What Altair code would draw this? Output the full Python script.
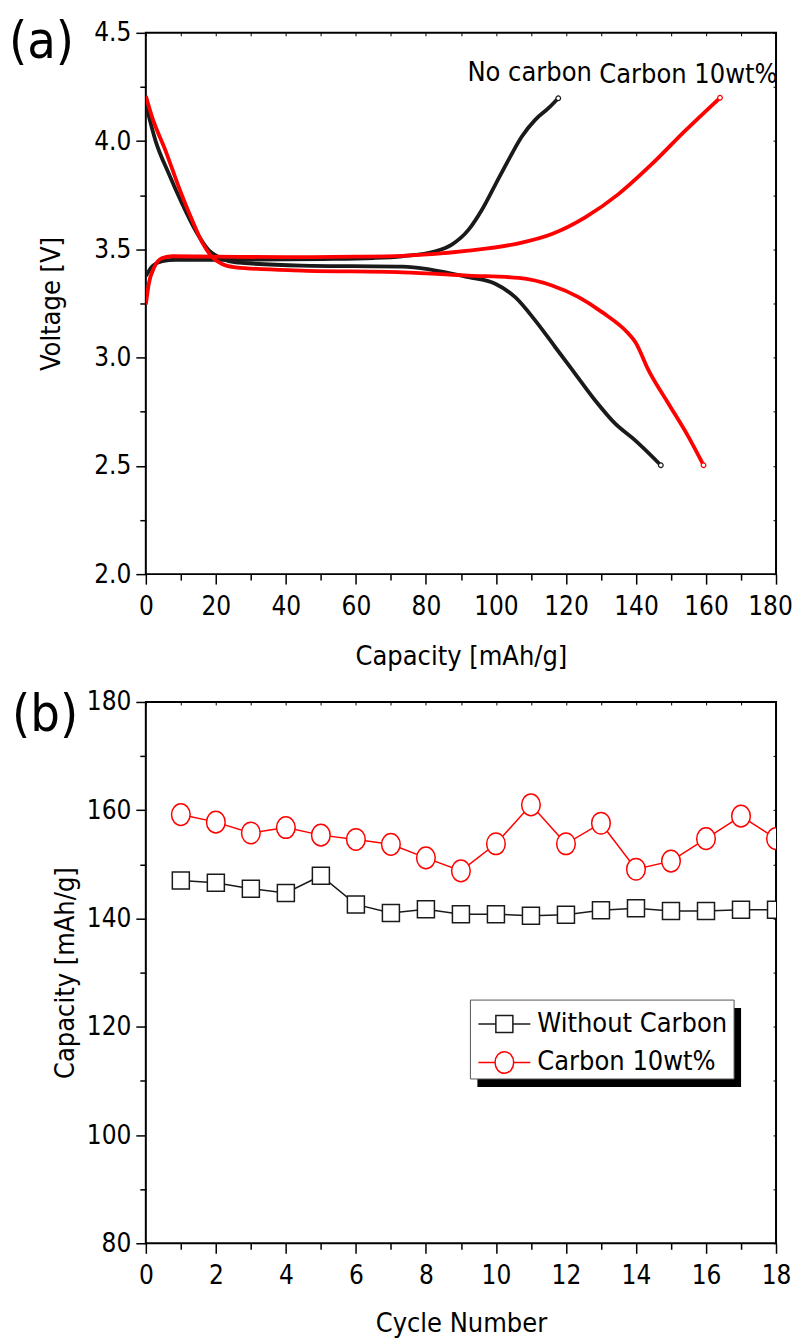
import altair as alt
import pandas as pd

FONT = "DejaVu Sans Condensed, DejaVu Sans"
BLACK = "#1a1a1a"
RED = "#ff0000"

# ---------------- Panel (a): voltage profiles ----------------
nc_charge_cap = [0, 1.85, 4.7, 8.5, 30, 50, 65, 73.2, 82.7, 87.4, 92.2, 96, 99.8, 103.6, 107.4, 111.2, 115, 117.8]
nc_charge_v = [3.376, 3.422, 3.445, 3.452, 3.452, 3.455, 3.46, 3.468, 3.491, 3.522, 3.591, 3.683, 3.798, 3.913, 4.021, 4.098, 4.152, 4.198]

nc_dis_cap = [0, 2.8, 6.6, 10.4, 14.2, 18, 21.8, 25.6, 44.6, 73.2, 92.2, 99.8, 105.5, 111.2, 116.9, 122.6, 128.3, 134, 139.7, 147.1]
nc_dis_v = [4.17, 4.0, 3.848, 3.71, 3.587, 3.495, 3.457, 3.44, 3.425, 3.42, 3.371, 3.341, 3.279, 3.172, 3.049, 2.926, 2.803, 2.696, 2.619, 2.503]

c10_charge_cap = [0, 0.9, 2.3, 4.7, 7.6, 20, 40, 60, 73.2, 92.2, 106.5, 116, 125.5, 135, 144.5, 154, 164]
c10_charge_v = [3.245, 3.345, 3.414, 3.46, 3.468, 3.466, 3.464, 3.466, 3.47, 3.494, 3.528, 3.571, 3.648, 3.755, 3.893, 4.047, 4.2]

c10_dis_cap = [0, 1.85, 5.65, 9.45, 13.3, 16.1, 19, 21.8, 25.6, 44.6, 73.2, 92.2, 106.5, 116, 123.6, 130.3, 137.9, 139.8, 143.6, 149.3, 155, 159.3]
c10_dis_v = [4.208, 4.108, 3.955, 3.786, 3.632, 3.532, 3.463, 3.432, 3.417, 3.402, 3.394, 3.379, 3.368, 3.333, 3.279, 3.21, 3.11, 3.072, 2.941, 2.787, 2.634, 2.503]

cap_ticks = list(range(0, 181, 10))
volt_ticks = [2.0, 2.25, 2.5, 2.75, 3.0, 3.25, 3.5, 3.75, 4.0, 4.25, 4.5]

# ---------------- Panel (b): cycling ----------------
cycles = list(range(1, 19))
no_carbon_cap = [147.0, 146.6, 145.5, 144.7, 147.9, 142.6, 141.0, 141.7, 140.8, 140.8, 140.5, 140.7, 141.5, 141.9, 141.4, 141.4, 141.6, 141.6]
carbon_cap = [159.2, 157.8, 155.8, 156.8, 155.4, 154.6, 153.7, 151.2, 148.8, 153.8, 161.0, 153.8, 157.6, 149.1, 150.6, 154.75, 158.9, 154.75]
cycle_ticks = list(range(0, 19))
cap_b_ticks = list(range(80, 181, 10))

legend_names = ["Without Carbon", "Carbon 10wt%"]
curve_labels = ["No carbon", "Carbon 10wt%"]

FS = 27   # titles / annotations
LFS = 26  # tick labels


def curve_df(cap, volt, name):
    return pd.DataFrame({"cap": cap, "volt": volt, "curve": name, "idx": list(range(len(cap)))})


black_df = pd.concat([curve_df(nc_charge_cap, nc_charge_v, "charge"),
                      curve_df(nc_dis_cap, nc_dis_v, "discharge")])
red_df = pd.concat([curve_df(c10_charge_cap, c10_charge_v, "charge"),
                    curve_df(c10_dis_cap, c10_dis_v, "discharge")])
black_end = pd.DataFrame({"cap": [nc_charge_cap[-1], nc_dis_cap[-1]], "volt": [nc_charge_v[-1], nc_dis_v[-1]]})
red_end = pd.DataFrame({"cap": [c10_charge_cap[-1], c10_dis_cap[-1]], "volt": [c10_charge_v[-1], c10_dis_v[-1]]})

W, H = 631, 542
one = pd.DataFrame({"k": [0]})

xs_a = alt.Scale(domain=[0, 180], nice=False, zero=False)
ys_a = alt.Scale(domain=[2.0, 4.5], nice=False, zero=False)

x_axis_a = alt.Axis(values=cap_ticks, title="Capacity [mAh/g]", grid=False, domain=False, labelFlush=False,
                    tickSize={"condition": {"test": "datum.value % 20 === 0", "value": 10}, "value": 6},
                    labelExpr="datum.value % 20 === 0 ? datum.label : ''",
                    labelOffset={"condition": {"test": "datum.value === 180", "value": -6}, "value": 0},
                    labelOverlap=False, labelPadding=9, titlePadding=24, tickWidth=1.5, tickColor="black")
y_axis_a = alt.Axis(values=volt_ticks, title="Voltage [V]", grid=False, domain=False, format=".1f", labelFlush=False,
                    tickSize={"condition": {"test": "abs(datum.value*2 - round(datum.value*2)) < 0.001", "value": 10}, "value": 6},
                    labelExpr="abs(datum.value*2 - round(datum.value*2)) < 0.001 ? datum.label : ''",
                    labelOverlap=False, labelPadding=5, titlePadding=28, tickWidth=1.5, tickColor="black")

black_lines = alt.Chart(black_df).mark_line(color=BLACK, strokeWidth=3.8, interpolate="monotone", clip=True).encode(
    x=alt.X("cap:Q", scale=xs_a, axis=x_axis_a),
    y=alt.Y("volt:Q", scale=ys_a, axis=y_axis_a),
    detail="curve:N", order="idx:Q")
red_lines = alt.Chart(red_df).mark_line(color=RED, strokeWidth=3.8, interpolate="monotone", clip=True).encode(
    x=alt.X("cap:Q", scale=xs_a, axis=None),
    y=alt.Y("volt:Q", scale=ys_a, axis=None),
    detail="curve:N", order="idx:Q")
black_pts = alt.Chart(black_end).mark_point(shape="circle", filled=True, fill="white", stroke=BLACK,
                                            strokeWidth=1.2, size=22, opacity=1).encode(
    x=alt.X("cap:Q", scale=xs_a, axis=None), y=alt.Y("volt:Q", scale=ys_a, axis=None))
red_pts = alt.Chart(red_end).mark_point(shape="circle", filled=True, fill="white", stroke=RED,
                                        strokeWidth=1.2, size=22, opacity=1).encode(
    x=alt.X("cap:Q", scale=xs_a, axis=None), y=alt.Y("volt:Q", scale=ys_a, axis=None))
mirror_a = alt.Chart(black_df).mark_point(opacity=0).encode(
    x=alt.X("cap:Q", scale=xs_a, axis=alt.Axis(orient="top", values=cap_ticks, labels=False, title=None,
                                               domain=False, grid=False, tickSize=3, offset=-3, tickColor="black")),
    y=alt.Y("volt:Q", scale=ys_a, axis=alt.Axis(orient="right", values=volt_ticks, labels=False, title=None,
                                                domain=False, grid=False, tickSize=3, offset=-3, tickColor="black")))

txt_nc = alt.Chart(one).mark_text(align="left", baseline="alphabetic", fontSize=FS, font=FONT, color="black").encode(
    x=alt.value(322), y=alt.value(48), text=alt.value(curve_labels[0]))
txt_c10 = alt.Chart(one).mark_text(align="left", baseline="alphabetic", fontSize=FS, font=FONT, color="black").encode(
    x=alt.value(454), y=alt.value(50), text=alt.value(curve_labels[1]))
lab_a = alt.Chart(one).mark_text(align="left", baseline="middle", fontSize=52, font=FONT, color="black").encode(
    x=alt.value(-137), y=alt.value(9), text=alt.value("(a)"))

top = alt.layer(black_lines, red_lines, black_pts, red_pts, mirror_a, txt_nc, txt_c10, lab_a).resolve_axis(
    x="independent", y="independent").properties(width=W, height=H)

# ---------------- bottom ----------------
b_df = pd.DataFrame({"cycle": cycles, "nc": no_carbon_cap, "c10": carbon_cap})
xs_b = alt.Scale(domain=[0, 18], nice=False, zero=False)
ys_b = alt.Scale(domain=[80, 180], nice=False, zero=False)

x_axis_b = alt.Axis(values=cycle_ticks, title="Cycle Number", grid=False, domain=False, labelFlush=False,
                    tickSize={"condition": {"test": "datum.value % 2 === 0", "value": 10}, "value": 6},
                    labelExpr="datum.value % 2 === 0 ? datum.label : ''",
                    labelOverlap=False, labelPadding=9, titlePadding=22, tickWidth=1.5, tickColor="black")
y_axis_b = alt.Axis(values=cap_b_ticks, title="Capacity [mAh/g]", grid=False, domain=False, labelFlush=False,
                    tickSize={"condition": {"test": "datum.value % 20 === 0", "value": 10}, "value": 6},
                    labelExpr="datum.value % 20 === 0 ? datum.label : ''",
                    labelOverlap=False, labelPadding=5, titlePadding=7, tickWidth=1.5, tickColor="black")

ELLIPSE = "M -0.86 0 A 0.86 1 0 1 0 0.86 0 A 0.86 1 0 1 0 -0.86 0 Z"

nc_line = alt.Chart(b_df).mark_line(color=BLACK, strokeWidth=1.5, clip=True).encode(
    x=alt.X("cycle:Q", scale=xs_b, axis=x_axis_b), y=alt.Y("nc:Q", scale=ys_b, axis=y_axis_b))
c10_line = alt.Chart(b_df).mark_line(color=RED, strokeWidth=1.5, clip=True).encode(
    x=alt.X("cycle:Q", scale=xs_b, axis=None), y=alt.Y("c10:Q", scale=ys_b, axis=None))
nc_pts = alt.Chart(b_df).mark_point(shape="square", filled=True, fill="white", stroke=BLACK, strokeWidth=1.5,
                                     size=290, opacity=1, clip=True).encode(
    x=alt.X("cycle:Q", scale=xs_b, axis=None), y=alt.Y("nc:Q", scale=ys_b, axis=None))
c10_pts = alt.Chart(b_df).mark_point(shape=ELLIPSE, filled=True, fill="white", stroke=RED, strokeWidth=1.5,
                                      size=470, opacity=1, clip=True).encode(
    x=alt.X("cycle:Q", scale=xs_b, axis=None), y=alt.Y("c10:Q", scale=ys_b, axis=None))
mirror_b = alt.Chart(b_df).mark_point(opacity=0).encode(
    x=alt.X("cycle:Q", scale=xs_b, axis=alt.Axis(orient="top", values=cycle_ticks, labels=False, title=None,
                                                 domain=False, grid=False, tickSize=3, offset=-3, tickColor="black")),
    y=alt.Y("nc:Q", scale=ys_b, axis=alt.Axis(orient="right", values=cap_b_ticks, labels=False, title=None,
                                              domain=False, grid=False, tickSize=3, offset=-3, tickColor="black")))

# legend (drawn as annotation)
LX0, LX1, LY0, LY1 = 325, 589, 298.5, 377.5
shadow = alt.Chart(one).mark_rect(color="black").encode(
    x=alt.value(LX0 + 7), x2=alt.value(LX1 + 7), y=alt.value(LY0 + 8), y2=alt.value(LY1 + 8))
box = alt.Chart(one).mark_rect(fill="white", stroke="#555555", strokeWidth=1).encode(
    x=alt.value(LX0), x2=alt.value(LX1), y=alt.value(LY0), y2=alt.value(LY1))
leg_rule1 = alt.Chart(one).mark_rule(color=BLACK, strokeWidth=1.5).encode(
    x=alt.value(333), x2=alt.value(385), y=alt.value(322.5))
leg_rule2 = alt.Chart(one).mark_rule(color=RED, strokeWidth=1.5).encode(
    x=alt.value(333), x2=alt.value(385), y=alt.value(361))
leg_sq = alt.Chart(one).mark_point(shape="square", filled=True, fill="white", stroke=BLACK, strokeWidth=1.5,
                                   size=290, opacity=1).encode(x=alt.value(359), y=alt.value(322.5))
leg_ci = alt.Chart(one).mark_point(shape=ELLIPSE, filled=True, fill="white", stroke=RED, strokeWidth=1.5,
                                   size=470, opacity=1).encode(x=alt.value(359), y=alt.value(361))
leg_t1 = alt.Chart(one).mark_text(align="left", baseline="middle", fontSize=FS, font=FONT, color="black").encode(
    x=alt.value(392), y=alt.value(322.5), text=alt.value(legend_names[0]))
leg_t2 = alt.Chart(one).mark_text(align="left", baseline="middle", fontSize=FS, font=FONT, color="black").encode(
    x=alt.value(392), y=alt.value(361), text=alt.value(legend_names[1]))
lab_b = alt.Chart(one).mark_text(align="left", baseline="middle", fontSize=52, font=FONT, color="black").encode(
    x=alt.value(-134), y=alt.value(13), text=alt.value("(b)"))

bottom = alt.layer(nc_line, c10_line, nc_pts, c10_pts, mirror_b, shadow, box, leg_rule1, leg_rule2,
                   leg_sq, leg_ci, leg_t1, leg_t2, lab_b).resolve_axis(
    x="independent", y="independent").properties(width=W, height=H)

chart = alt.vconcat(top, bottom, spacing=18).properties(
    padding={"left": 0, "top": 6, "right": 0, "bottom": 0}
).configure_view(stroke="black", strokeWidth=2).configure_axis(
    labelFont=FONT, titleFont=FONT, labelFontSize=LFS, titleFontSize=FS,
    labelColor="black", titleColor="black", titleFontWeight="normal"
)

chart.save("out.html", embed_options={"renderer": "svg", "actions": False})
